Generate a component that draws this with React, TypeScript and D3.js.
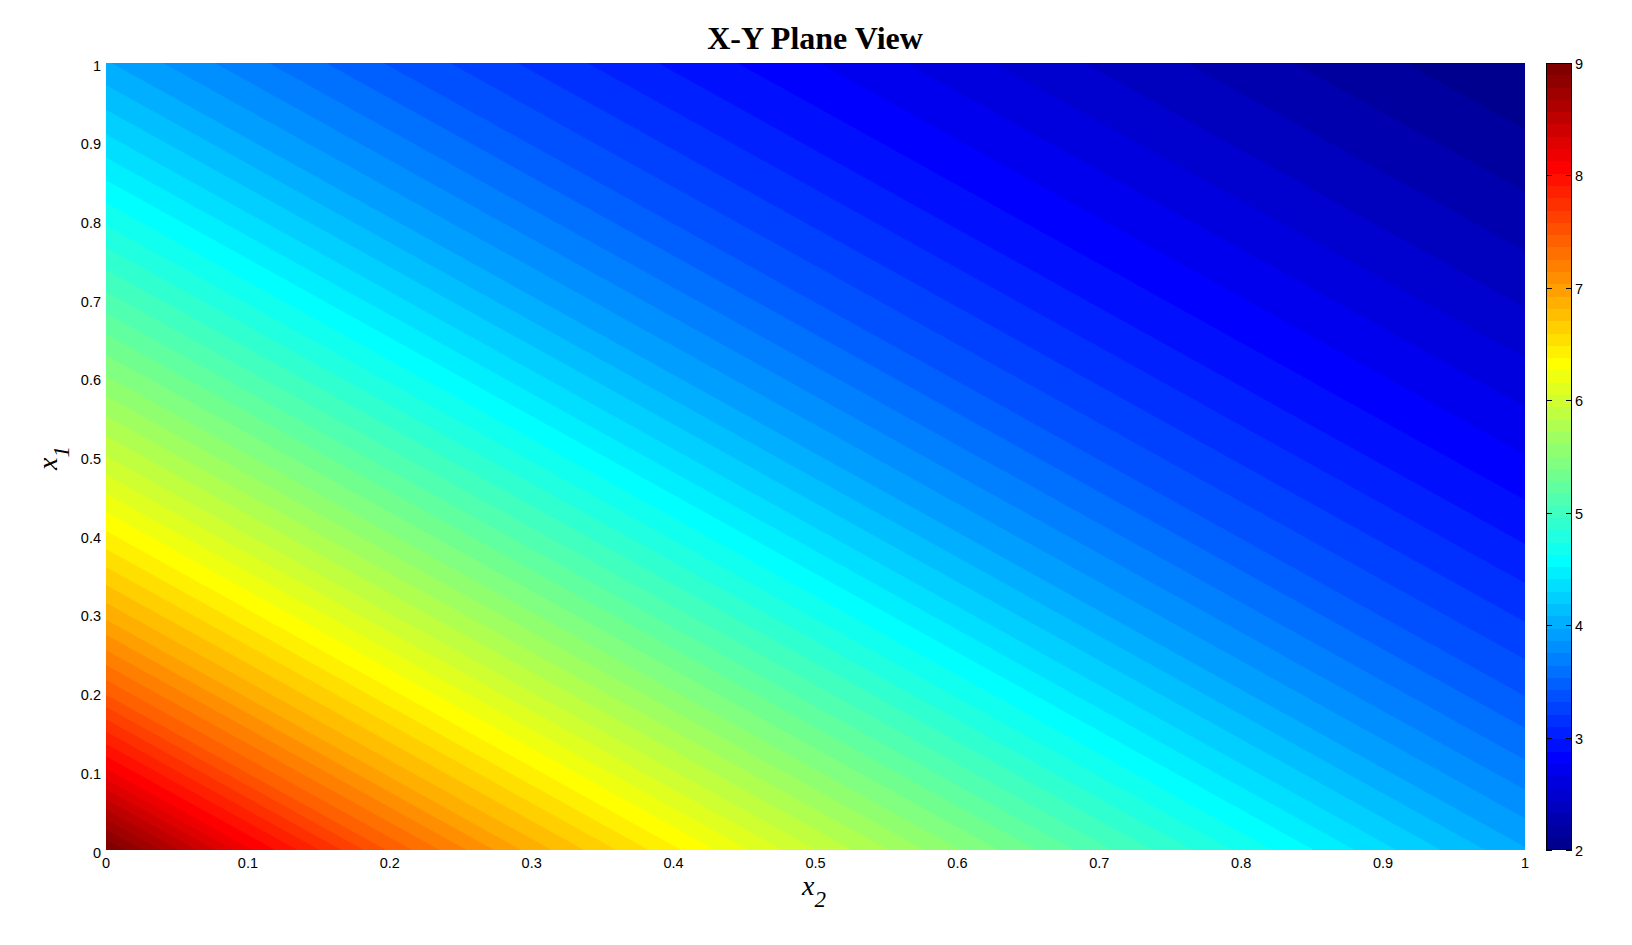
import React from 'react';
import * as d3 from 'd3';

// ---- data ----
// value of the surface along s = x1 + x2 (contours are straight lines x1 + x2 = const)
const profileS = [0, 0.1, 0.2, 0.3, 0.4, 0.5, 0.6, 0.7, 0.8, 0.9, 1.0, 1.1, 1.2, 1.3, 1.4, 1.5, 1.6, 1.7, 1.8, 1.9, 2.0];
const profileValue = [9.0, 8.15, 7.45, 6.88, 6.4, 5.94, 5.51, 5.1, 4.71, 4.33, 3.98, 3.68, 3.41, 3.18, 2.96, 2.77, 2.59, 2.42, 2.27, 2.13, 2.0];
const colorRange = [2, 9];
const levelCount = 64;
const axisTicks = [0, 0.1, 0.2, 0.3, 0.4, 0.5, 0.6, 0.7, 0.8, 0.9, 1];
const axisTickLabels = ['0', '0.1', '0.2', '0.3', '0.4', '0.5', '0.6', '0.7', '0.8', '0.9', '1'];
const colorbarTicks = [2, 3, 4, 5, 6, 7, 8, 9];
const titleText = 'X-Y Plane View';

const W = 1632;
const H = 945;
const P = { left: 106, right: 1525, top: 63, bottom: 850 };
const CB = { left: 1546, right: 1572 };

function jetColor(c: number): string {
  const u: number[] = [];
  for (let i = 1; i <= 16; i++) u.push(i / 16);
  for (let i = 0; i < 15; i++) u.push(1);
  for (let i = 16; i >= 1; i--) u.push(i / 16);
  const idx = c + 1;
  const get = (i: number) => (i >= 1 && i <= 47 ? u[i - 1] : 0);
  const r = get(idx - 24);
  const g = get(idx - 8);
  const b = get(idx + 8);
  return d3.rgb(Math.round(r * 255), Math.round(g * 255), Math.round(b * 255)).formatHex();
}

type Pt = [number, number];
function clipHalf(poly: Pt[], c: number): Pt[] {
  const out: Pt[] = [];
  const inside = (p: Pt) => p[0] + p[1] >= c;
  for (let i = 0; i < poly.length; i++) {
    const a = poly[i];
    const b = poly[(i + 1) % poly.length];
    const ia = inside(a);
    const ib = inside(b);
    if (ia) out.push(a);
    if (ia !== ib) {
      const sa = a[0] + a[1];
      const sb = b[0] + b[1];
      const t = (c - sa) / (sb - sa);
      out.push([a[0] + t * (b[0] - a[0]), a[1] + t * (b[1] - a[1])]);
    }
  }
  return out;
}

export default function App() {
  const x = d3.scaleLinear().domain([0, 1]).range([P.left, P.right]);
  const y = d3.scaleLinear().domain([0, 1]).range([P.bottom, P.top]);
  const cb = d3.scaleLinear().domain(colorRange).range([P.bottom, P.top]);
  const sAt = d3.scaleLinear().domain(profileValue).range(profileS).clamp(true);
  const step = (colorRange[1] - colorRange[0]) / levelCount;
  const colorIndex = (v: number) =>
    Math.max(0, Math.min(levelCount - 1, Math.floor((v - colorRange[0]) / step + 1e-9)));

  const square: Pt[] = [[0, 0], [1, 0], [1, 1], [0, 1]];
  const line = d3.line<Pt>().x((d) => x(d[0])).y((d) => y(d[1]));

  const vmax = d3.max(profileValue) as number;
  const bands: { d: string; fill: string }[] = [];
  bands.push({ d: line(square) + 'Z', fill: jetColor(colorIndex(vmax - 1e-6)) });
  for (let k = levelCount - 1; k >= 1; k--) {
    const L = colorRange[0] + k * step;
    if (L >= vmax) continue;
    const s = sAt(L);
    const poly = clipHalf(square, s);
    if (poly.length < 3) continue;
    bands.push({ d: line(poly) + 'Z', fill: jetColor(k - 1) });
  }

  const cbCells = d3.range(levelCount).map((k) => ({
    y0: cb(colorRange[0] + (k + 1) * step),
    y1: cb(colorRange[0] + k * step),
    fill: jetColor(k),
  }));

  const tickFont = { fontFamily: '"Liberation Sans", Arial, sans-serif', fontSize: 14.5, fill: '#000' };

  return (
    <svg width={W} height={H} style={{ position: 'absolute', left: 0, top: 0, background: '#fff' }}>
      <rect x={0} y={0} width={W} height={H} fill="#fff" />
      <text x={815} y={49} textAnchor="middle" fontFamily='"Liberation Serif", "Times New Roman", serif' fontWeight="bold" fontSize={32}>
        {titleText}
      </text>
      <g>
        {bands.map((b, i) => (
          <path key={i} d={b.d} fill={b.fill} stroke="none" />
        ))}
      </g>
      {axisTicks.map((t, i) => (
        <text key={'xt' + i} x={x(t)} y={P.bottom + 18} textAnchor="middle" {...tickFont}>
          {axisTickLabels[i]}
        </text>
      ))}
      {axisTicks.map((t, i) => (
        <text key={'yt' + i} x={P.left - 5} y={y(t) + 7.5} textAnchor="end" {...tickFont}>
          {axisTickLabels[i]}
        </text>
      ))}
      <text x={814} y={895} textAnchor="middle" fontFamily='"Liberation Serif", "Times New Roman", serif' fontStyle="italic" fontSize={28}>
        x<tspan fontSize={23} dy={12}>2</tspan>
      </text>
      <text transform="translate(57,458) rotate(-90)" textAnchor="middle" fontFamily='"Liberation Serif", "Times New Roman", serif' fontStyle="italic" fontSize={28}>
        x<tspan fontSize={23} dy={12}>1</tspan>
      </text>
      <g shapeRendering="crispEdges">
        {cbCells.map((c, i) => (
          <rect key={i} x={CB.left} y={c.y0} width={CB.right - CB.left} height={c.y1 - c.y0} fill={c.fill} />
        ))}
      </g>
      <rect x={CB.left + 0.5} y={P.top + 0.5} width={CB.right - CB.left - 1} height={P.bottom - P.top - 1} fill="none" stroke="#000" strokeWidth={1} />
      {colorbarTicks.map((t) => (
        <g key={'cb' + t}>
          <line x1={CB.left} x2={CB.left + 6} y1={Math.round(cb(t)) + 0.5} y2={Math.round(cb(t)) + 0.5} stroke="#000" />
          <line x1={CB.right - 6} x2={CB.right} y1={Math.round(cb(t)) + 0.5} y2={Math.round(cb(t)) + 0.5} stroke="#000" />
          <text x={CB.right + 3} y={cb(t) + 6} textAnchor="start" {...tickFont}>
            {t}
          </text>
        </g>
      ))}
    </svg>
  );
}
